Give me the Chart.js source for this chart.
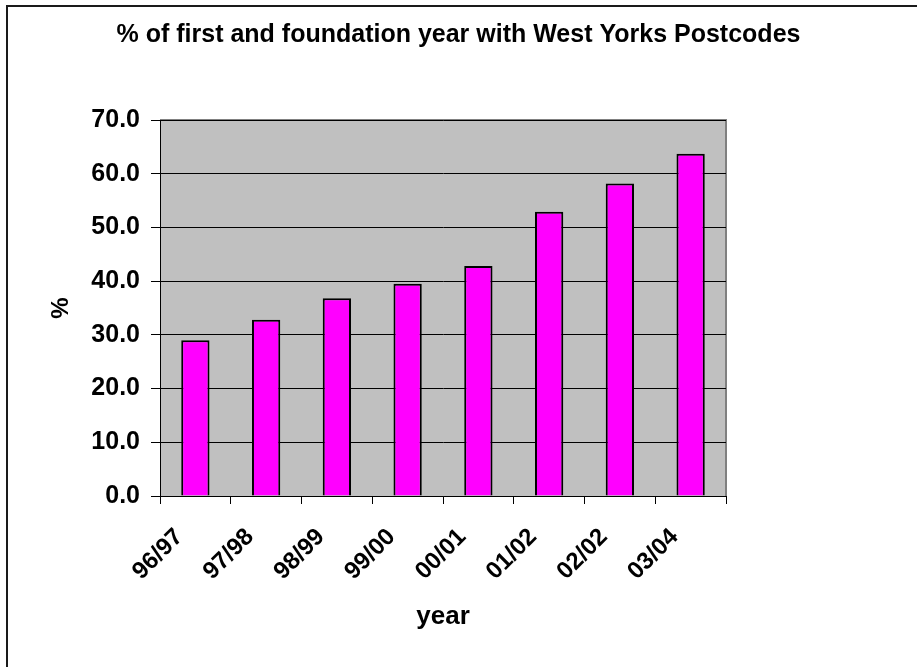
<!DOCTYPE html>
<html>
<head>
<meta charset="utf-8">
<script src="https://cdn.jsdelivr.net/npm/chart.js@4/dist/chart.umd.min.js"></script>
<style>
  html, body { margin: 0; padding: 0; background: #fff; overflow: hidden; }
  #frame { position: absolute; left: 6px; top: 5px; width: 1000px; height: 800px;
           border-left: 2px solid #1a1a1a; border-top: 2px solid #1a1a1a; }
  #wrap { position: absolute; left: 0; top: 0; width: 917px; height: 667px; }
</style>
</head>
<body>
<div id="frame"></div>
<div id="wrap"><canvas id="c" width="917" height="667"></canvas></div>
<script>
const categories = ["96/97", "97/98", "98/99", "99/00", "00/01", "01/02", "02/02", "03/04"];
const percentValues = [29.0, 32.8, 36.8, 39.5, 42.8, 52.9, 58.2, 63.7];
const titleText = "% of first and foundation year with West Yorks Postcodes";
const xTitle = "year";
const yTitle = "%";

const FONT = "'Liberation Sans', Arial, sans-serif";

const plotBg = {
  id: 'plotBg',
  beforeDraw(chart) {
    const {ctx, chartArea: a} = chart;
    ctx.save();
    ctx.fillStyle = '#C0C0C0';
    ctx.fillRect(a.left, a.top, a.right - a.left, a.bottom - a.top);
    ctx.strokeStyle = '#808080';
    ctx.lineWidth = 2;
    ctx.beginPath();
    ctx.moveTo(a.left, a.top);
    ctx.lineTo(a.right, a.top);
    ctx.lineTo(a.right, a.bottom);
    ctx.stroke();
    ctx.restore();
  }
};

new Chart(document.getElementById('c'), {
  type: 'bar',
  data: {
    labels: categories,
    datasets: [{
      data: percentValues,
      backgroundColor: '#FF00FF',
      borderColor: '#000000',
      borderWidth: 2,
      barPercentage: 0.4,
      categoryPercentage: 1.0
    }]
  },
  options: {
    responsive: false,
    animation: false,
    devicePixelRatio: 1,
    layout: { padding: 0 },
    plugins: {
      legend: { display: false },
      tooltip: { enabled: false },
      title: {
        display: true,
        text: titleText,
        color: '#000',
        font: { family: FONT, size: 25, weight: 'bold', lineHeight: 1.2 },
        padding: { top: 20, bottom: 70 }
      }
    },
    scales: {
      x: {
        offset: true,
        grid: { display: true, drawOnChartArea: false, drawTicks: true, tickLength: 8, color: '#000', offset: true },
        border: { display: true, color: '#000', width: 1 },
        ticks: {
          color: '#000',
          font: { family: FONT, size: 24, weight: 'bold' },
          minRotation: 45, maxRotation: 45,
          padding: 19,
          labelOffset: -16,
          autoSkip: false
        },
        title: {
          display: true, text: xTitle, color: '#000',
          font: { family: FONT, size: 26, weight: 'bold', lineHeight: 1.2 },
          padding: { top: 0, bottom: 34.4 }
        },
        afterFit(scale) { scale.height = 171; }
      },
      y: {
        min: 0, max: 70,
        grid: { color: '#000', lineWidth: 1, tickLength: 9, drawTicks: true },
        border: { display: true, color: '#000', width: 1 },
        ticks: {
          stepSize: 10,
          color: '#000',
          padding: 11,
          font: { family: FONT, size: 25, weight: 'bold' },
          callback: v => Number(v).toFixed(1)
        },
        title: {
          display: true, text: yTitle, color: '#000',
          font: { family: FONT, size: 24, weight: 'bold', lineHeight: 1.2 },
          padding: { top: 46.6, bottom: 0 }
        },
        afterFit(scale) { scale.width = 160; }
      },
      yRight: {
        position: 'right',
        display: true,
        grid: { display: false, drawTicks: false },
        border: { display: false },
        ticks: { display: false },
        afterFit(scale) { scale.width = 191; }
      }
    }
  },
  plugins: [plotBg]
});
</script>
</body>
</html>
